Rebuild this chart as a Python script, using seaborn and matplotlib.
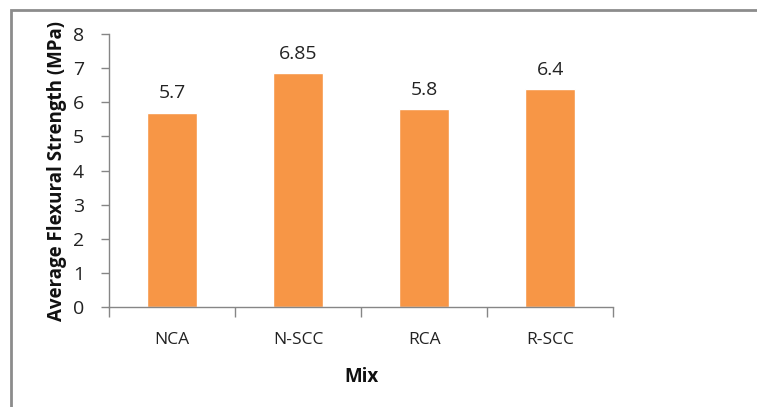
import matplotlib
matplotlib.use('Agg')
import matplotlib.pyplot as plt
import seaborn as sns
import pandas as pd
import numpy as np
from matplotlib.patches import Rectangle

# data
mixes = ['NCA', 'N-SCC', 'RCA', 'R-SCC']
strength = [5.7, 6.85, 5.8, 6.4]
labels = ['5.7', '6.85', '5.8', '6.4']

df = pd.DataFrame({'Mix': mixes, 'Strength': strength})

sns.set_style('white')
plt.rcParams['font.family'] = ['Open Sans', 'DejaVu Sans']

fig = plt.figure(figsize=(7.57, 4.07), dpi=100)
ax = fig.add_axes([0.144, 0.246, 0.666, 0.67])

sns.barplot(data=df, x='Mix', y='Strength', color='#F79646', width=0.4,
            saturation=1, ax=ax)

for i, (v, t) in enumerate(zip(strength, labels)):
    ax.text(i, v + 0.3, t, ha='center', va='bottom', fontsize=14, color='#222222')

ax.set_ylim(0, 8)
ax.set_xlim(-0.5, 3.5)
ax.set_yticks(range(0, 9))
ax.set_xticks(range(4))
ax.set_xticklabels(mixes)
ax.set_xticks(np.arange(-0.5, 4, 1), minor=True)
ax.tick_params(axis='x', which='major', bottom=True, length=0, pad=18,
               labelsize=12.5, colors='#222222')
ax.tick_params(axis='x', which='minor', bottom=True, length=7, width=1,
               color='#868686', direction='out')
ax.tick_params(axis='y', left=True, length=6, width=1, color='#868686', direction='out',
               labelsize=14, labelcolor='#222222', pad=12)

for s in ['top', 'right']:
    ax.spines[s].set_visible(False)
for s in ['left', 'bottom']:
    ax.spines[s].set_color('#868686')
    ax.spines[s].set_linewidth(1)

ax.set_xlabel('Mix', fontsize=13.5, fontweight='bold', labelpad=14, color='#111111')
ax.set_ylabel('Average Flexural Strength (MPa)', fontsize=13.5, fontweight='bold',
              labelpad=4, color='#111111')

# outer chart border (cropped on right and bottom)
fig.add_artist(Rectangle((11 / 757, -0.05), 1.1, 1 - 10 / 407 + 0.05,
                         transform=fig.transFigure, fill=False,
                         edgecolor='#8c8c8c', linewidth=2))

fig.savefig('out.png', dpi=100)
